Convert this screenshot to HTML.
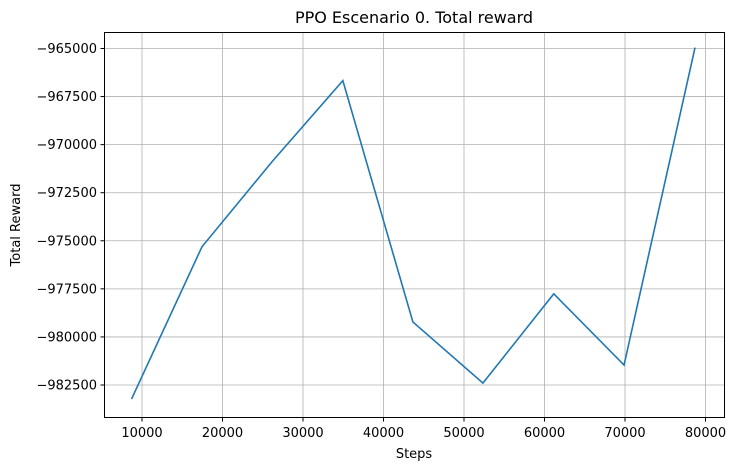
<!DOCTYPE html>
<html><head><meta charset="utf-8"><style>
body{margin:0;background:#fff;}
svg{display:block;font-family:"DejaVu Sans","Liberation Sans",sans-serif;}
</style></head><body>
<svg id="chart" width="736" height="470">
<text x="414" y="23" font-size="16" text-anchor="middle">PPO Escenario 0. Total reward</text>
<text x="414" y="458" font-size="13" text-anchor="middle">Steps</text>
<text x="20" y="225" font-size="13" text-anchor="middle" transform="rotate(-90 20 225)">Total Reward</text>
<g id="grid"></g><g id="ticks"></g><g id="series"></g>
<rect x="104.5" y="32.5" width="620" height="385" fill="none" stroke="#000" stroke-width="1"/>
</svg>
<script>
const steps=[8700,17450,26150,34950,43650,52350,61150,69880,78700];
const rewards=[-983230,-975310,-970890,-966670,-979220,-982400,-977760,-981460,-964950];
const xTicks=[10000,20000,30000,40000,50000,60000,70000,80000];
const yTicks=[-965000,-967500,-970000,-972500,-975000,-977500,-980000,-982500];
const NS="http://www.w3.org/2000/svg";
const xs=v=>142+(v-10000)*(563.5/70000);
const ys=v=>48.5+(-965000-v)*(336.5/17500);
function mk(t,a,p){const e=document.createElementNS(NS,t);for(const k in a)e.setAttribute(k,a[k]);p.appendChild(e);return e;}
const g=document.getElementById('grid'),tk=document.getElementById('ticks'),s=document.getElementById('series');
xTicks.forEach(v=>{const x=xs(v);
const l=mk('line',{x1:x,x2:x,y1:33,y2:418,stroke:'#b0b0b0','stroke-width':0.8},g);


mk('line',{x1:x,x2:x,y1:418,y2:421.5,stroke:'#000'},tk);
const t=mk('text',{x:x,y:437,'font-size':13,'text-anchor':'middle'},tk);t.textContent=v;

});
yTicks.forEach(v=>{const y=ys(v);
const l=mk('line',{x1:104,x2:724,y1:y,y2:y,stroke:'#b0b0b0','stroke-width':0.8},g);


mk('line',{x1:100.5,x2:104,y1:y,y2:y,stroke:'#000'},tk);
const t=mk('text',{x:97,y:y+4.5,'font-size':13,'text-anchor':'end'},tk);t.textContent=String(v).replace('-','\u2212');

});
const p=mk('polyline',{points:steps.map((v,i)=>xs(v)+','+ys(rewards[i])).join(' '),fill:'none',stroke:'#1f77b4','stroke-width':1.6},s);


</script>
</body></html>
